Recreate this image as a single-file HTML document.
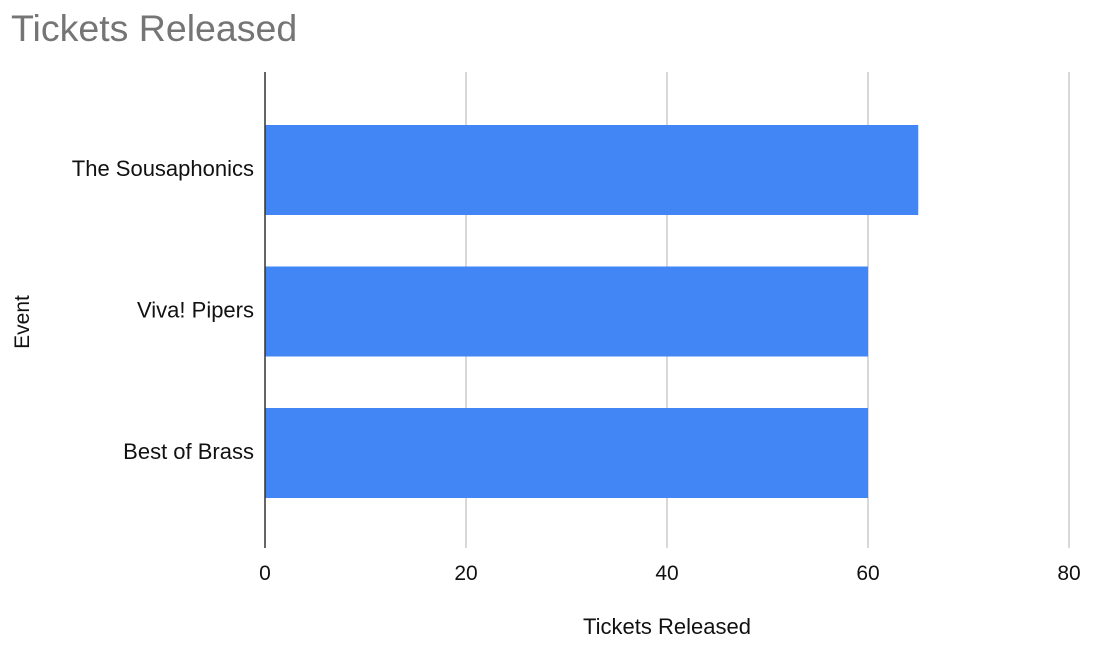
<!DOCTYPE html>
<html><head><meta charset="utf-8"><style>
body{margin:0;background:#fff;font-family:"Liberation Sans",Arial,sans-serif;}
svg text{font-family:"Liberation Sans",Arial,sans-serif;}
</style></head><body>
<svg id="chart" width="1096" height="648">
<text x="11" y="41" font-size="37.5" fill="#757575">Tickets Released</text>
<g id="grid"></g><g id="bars"></g><g id="labels"></g>
<line x1="265" y1="72" x2="265" y2="548" stroke="#333" stroke-width="1.5"/>
<text x="667" y="634" font-size="22" text-anchor="middle" fill="#111">Tickets Released</text>
<text transform="translate(29,322) rotate(-90)" font-size="21" text-anchor="middle" fill="#111">Event</text>
</svg>
<script>
const categories = ["The Sousaphonics","Viva! Pipers","Best of Brass"];
const values = [65,60,60];
const ticks = [0,20,40,60,80];
const ns="http://www.w3.org/2000/svg";
const x0=265, pxPer=(1069-265)/80;
function xs(v){return x0+v*pxPer;}
function yc(i){return 170+i*141.5;}
const grid=document.getElementById('grid'),bars=document.getElementById('bars'),labels=document.getElementById('labels');
ticks.forEach(t=>{
  if(t>0){const l=document.createElementNS(ns,'line');
  l.setAttribute('x1',xs(t));l.setAttribute('x2',xs(t));l.setAttribute('y1',72);l.setAttribute('y2',548);
  l.setAttribute('stroke','#ccc');l.setAttribute('stroke-width','1.5');
  
  
  grid.appendChild(l);}
  const tx=document.createElementNS(ns,'text');
  tx.setAttribute('x',xs(t));tx.setAttribute('y',580);tx.setAttribute('font-size','21');tx.setAttribute('text-anchor','middle');tx.setAttribute('fill','#111');
  tx.textContent=t;
  
  
  labels.appendChild(tx);
});
categories.forEach((c,i)=>{
  const r=document.createElementNS(ns,'rect');
  r.setAttribute('x',x0);r.setAttribute('y',yc(i)-45);r.setAttribute('width',xs(values[i])-x0);r.setAttribute('height',90);r.setAttribute('fill','#4285f4');
  
  
  bars.appendChild(r);
  const tx=document.createElementNS(ns,'text');
  tx.setAttribute('x',254);tx.setAttribute('y',yc(i)+6);tx.setAttribute('font-size','22');tx.setAttribute('text-anchor','end');tx.setAttribute('fill','#111');
  tx.textContent=c;
  
  
  labels.appendChild(tx);
});
</script>
</body></html>
